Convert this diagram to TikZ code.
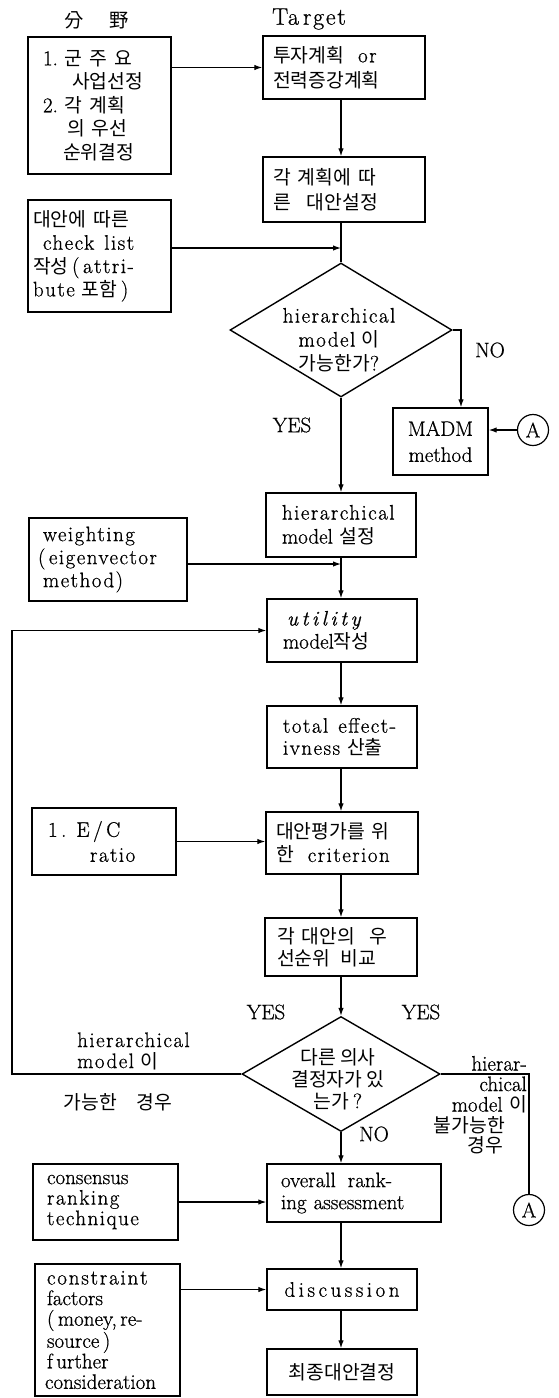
\documentclass[tikz,border=0pt]{standalone}
\usepackage{fontspec}
\setmainfont{Latin Modern Roman}[FakeBold=0.7]
\usetikzlibrary{arrows.meta,shapes.geometric}
\newfontfamily\krfont{Noto Sans CJK KR}[Scale=0.92]
\newcommand\kr[1]{{\krfont #1}}
\newcommand\ls[1]{{\addfontfeature{LetterSpace=7}#1}}
\newcommand\setfs[1]{\fontsize{21pt}{#1pt}\selectfont}
\tikzset{
  every node/.style={font=\setfs{23}},
  bx/.style={draw, line width=1.4pt, inner ysep=0pt, align=left},
  dia/.style={draw, diamond, line width=1.4pt, inner sep=0pt},
  con/.style={line width=1.2pt},
  arr/.style={con, -{Latex[length=8pt,width=5.5pt]}},
  lab/.style={inner sep=0pt},
  ring/.style={draw, circle, line width=1.2pt, minimum size=31pt, inner sep=0pt},
}
\begin{document}
\begin{tikzpicture}[x=1pt,y=-1pt]
\fill[white] (0,0) rectangle (559,1398);
\useasboundingbox (0,0) rectangle (559,1398);
\coordinate (col) at (341,0);
\coordinate (nox) at (461,0);
\coordinate (fbx) at (12,0);

% column headings
\node[lab] (hdA) at (97,20) {\kr{分\hspace{26pt}野}};
\node[lab, font=\fontsize{24pt}{26pt}\selectfont] (hdB) at (309,19) {\ls{Ta\,rget}};

% left-hand input boxes
\node[bx, font=\setfs{23.5}, text width=113pt, inner xsep=15pt, minimum height=137pt] (L1) at (99.5,105.5)
  {1.~\kr{군 주 요}\\\hspace*{29pt}\kr{사업선정}\\2.~\kr{각 계획}\\\hspace*{24pt}\kr{의 우선}\\\hspace*{20pt}\kr{순위결정}};
\node[bx, font=\setfs{23.3}, text width=133pt, inner xsep=5pt, minimum height=112pt] (L2) at (99.5,256)
  {\kr{대안에 따른}\\\hspace*{10pt}\ls{check}\hspace{10pt}\ls{list}\\\kr{작성}\,(\,\ls{attri-}\\\ls{bute} \kr{포함}\,)};
\node[bx, font=\setfs{23}, text width=140pt, inner xsep=9pt, minimum height=83pt] (W) at (108,559.5)
  {\hspace*{5pt}\ls{weighting}\\(\,\ls{eigenvector}\\\hspace*{5pt}\ls{method)}};
\node[bx, font=\setfs{25}, text width=112pt, inner xsep=16pt, minimum height=67pt] (EC) at (104,841.5)
  {1\,.\hspace{10pt}\ls{E\,/\,C}\\\hspace*{42pt}\ls{ratio}};
\node[bx, font=\setfs{20.5}, text width=117pt, inner xsep=14pt, minimum height=76pt] (CR) at (105.5,1202)
  {consensus\\\ls{ranking}\\\ls{technique}};
\node[bx, font=\setfs{20.6}, text width=125pt, inner xsep=10pt, minimum height=132pt] (CF) at (107.5,1330)
  {\hspace*{2pt}c\kern1.8pt o\kern1.8pt n\kern1.8pt s\kern1.8pt t\kern1.8pt r\kern1.8pt a\kern1.8pt i\kern1.8pt n\kern1.8pt t\\\hspace*{2pt}factors\\\hspace*{2pt}(\,money,\,re-\\\hspace*{2pt}source\,)\\\hspace*{2pt}f\,urther\\consideration};

% main column
\node[bx, font=\setfs{25}, text width=142pt, inner xsep=10pt, minimum height=63pt] (T1) at (344,67.5)
  {\kr{투자계획}\hspace{14pt}\ls{or}\\\kr{전력증강계획}};
\node[bx, font=\setfs{25}, text width=142pt, inner xsep=10pt, minimum height=65pt] (T2) at (344,189.5)
  {\kr{각 계획에 따}\\\kr{른}\hspace{16pt}\kr{대안설정}};
\node[dia, minimum width=222pt, minimum height=134pt] (D1) at (341,330) {};
\node[lab, align=center, font=\setfs{24}] (D1t) at (339,340) {\ls{hierarchical}\\\ls{model} \kr{이}\\\kr{가능한가}?};
\node[bx, align=center, font=\setfs{26}, text width=87pt, inner xsep=4pt, minimum height=67pt] (MADM) at (440.5,441.5)
  {MADM\\method};
\node[ring] (A1) at (533,430) {A};
\node[bx, font=\setfs{24}, text width=124pt, inner xsep=13pt, minimum height=64pt] (H) at (341,525)
  {\hspace*{3pt}\ls{hierarchical}\\\hspace*{3pt}model \kr{설정}};
\node[bx, font=\setfs{23}, text width=118pt, inner xsep=16pt, minimum height=63pt] (U) at (342,630.5)
  {\hspace*{4pt}\textit{u\,t\,i\,l\,i\,t\,y}\\model\kr{작성}};
\node[bx, font=\setfs{22}, text width=130pt, inner xsep=10pt, minimum height=62pt] (TE) at (342,737)
  {\hspace*{6pt}\ls{total}\hspace{10pt}\ls{effect-}\\\hspace*{6pt}\ls{ivness} \kr{산출}};
\node[bx, font=\setfs{23}, text width=132pt, inner xsep=10pt, minimum height=62pt] (C) at (342,843)
  {\kr{대안평가를 위}\\\kr{한}\hspace{14pt}\ls{criterion}};
\node[bx, font=\setfs{22}, text width=128pt, inner xsep=12pt, minimum height=58pt] (R) at (341,947)
  {\kr{각 대안의}\hspace{14pt}\kr{우}\\\kr{선순위}\hspace{10pt}\kr{비교}};
\node[dia, minimum width=198pt, minimum height=115pt] (D2) at (341,1074) {};
\node[lab, align=center, font=\setfs{22}] (D2t) at (338,1079) {\kr{다른 의사}\\\kr{결정자가 있}\\\kr{는가}\,?};
\node[bx, font=\setfs{22}, text width=154pt, inner xsep=10pt, minimum height=58pt] (OR) at (354,1193)
  {\hspace*{4pt}overall\hspace{12pt}rank-\\\hspace*{4pt}ing assessment};
\node[bx, align=center, font=\setfs{22}, text width=140pt, inner xsep=5pt, minimum height=41pt] (D) at (342,1289.5)
  {d\,i\,s\,c\,u\,s\,s\,i\,o\,n};
\node[bx, align=center, font=\setfs{22}, text width=140pt, inner xsep=5pt, minimum height=46pt] (F) at (342,1372)
  {\kr{최종대안결정}};
\node[ring] (A2) at (529,1210) {A};

% branch labels
\node[lab] (no1) at (490,350) {NO};
\node[lab] (yes1) at (292,425) {YES};
\node[lab] (yes2) at (266,1012) {YES};
\node[lab] (yes3) at (421,1012) {YES};
\node[lab] (no2) at (374,1134) {NO};
\node[lab, anchor=west, align=left, font=\setfs{21}] (hl) at (77,1051) {\ls{hierarchical}\\\ls{model} \kr{이}};
\node[lab] (hl2) at (118,1102) {\kr{가능한}\hspace{20pt}\kr{경우}};
\node[lab, anchor=east, align=right, font=\setfs{20.5}] (hr) at (527,1105)
  {hierar-\\chical\\model \kr{이}\\\kr{불가능한}\hspace{22pt}\mbox{}\\\kr{경우}\hspace{24pt}\mbox{}};

% connectors
\draw[arr] (L1.east |- T1.west) -- (T1.west);
\draw[arr] (T1.south -| col) -- (T2.north -| col);
\draw[con] (T2.south -| col) -- (D1.north);
\draw[arr] ([yshift=8pt]L2.east) -- ([yshift=8pt]L2.east -| col);
\draw[arr] (D1.east) -- (D1.east -| nox) -- (nox |- MADM.north);
\draw[arr] (A1.west) -- (A1.west -| MADM.east);
\draw[arr] (D1.south) -- (D1.south |- H.north);
\draw[arr] (H.south -| col) -- (U.north -| col);
\draw[arr] ([yshift=-4.5pt]W.east) -- ([yshift=-4.5pt]W.east -| col);
\draw[arr] (U.south -| col) -- (TE.north -| col);
\draw[arr] (TE.south -| col) -- (C.north -| col);
\draw[arr] (EC.east) -- (EC.east -| C.west);
\draw[arr] (C.south -| col) -- (R.north -| col);
\draw[arr] (R.south -| D2.north) -- (D2.north);
\draw[arr] (D2.west) -- (D2.west -| fbx) -- (fbx |- U.west) -- (U.west);
\draw[con] (D2.east) -- (D2.east -| A2.north) -- (A2.north);
\draw[arr] (D2.south) -- (D2.south |- OR.north);
\draw[arr] (CR.east) -- (CR.east -| OR.west);
\draw[arr] (OR.south -| col) -- (D.north -| col);
\draw[arr] (CF.east |- D.west) -- (D.west);
\draw[arr] (D.south -| col) -- (F.north -| col);
\end{tikzpicture}
\end{document}
